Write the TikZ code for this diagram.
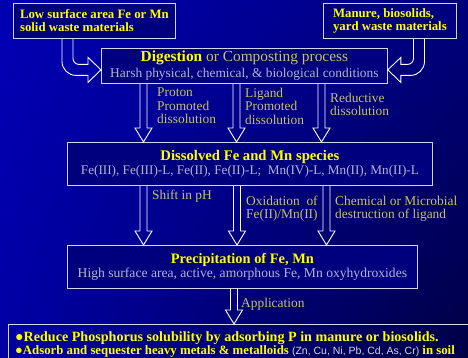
\documentclass[tikz,border=0pt]{standalone}
\usepackage{fontspec}
\setmainfont{Liberation Serif}
\newfontfamily\arialfont{Liberation Sans}
\usetikzlibrary{calc,shadings}
\definecolor{bgul}{HTML}{0000B4}
\definecolor{bgur}{HTML}{00007C}
\definecolor{bgll}{HTML}{0000A4}
\definecolor{bglr}{HTML}{000044}
\definecolor{boxfill}{HTML}{00007E}
\definecolor{rim}{HTML}{D4D4EC}
\definecolor{titleyel}{HTML}{FFFF00}
\definecolor{khaki}{HTML}{C8C264}
\definecolor{greytxt}{HTML}{B4B4D8}
\definecolor{lightgrey}{HTML}{D8D8D8}

\begin{document}
\begin{tikzpicture}[x=1pt, y=-1pt,
    box/.style={draw=rim, line width=0.8pt, fill=boxfill, inner sep=0pt,
                anchor=north west},
    blk/.style={draw=white, line width=0.9pt, line join=miter},
    lbl/.style={text=khaki, font=\fontsize{13.4}{13.3}\selectfont, align=left,
                anchor=north west, inner sep=0pt},
    ttl/.style={text=titleyel, font=\bfseries\fontsize{12.8}{13}\selectfont},
    usetxt/.style={text=titleyel, anchor=base west, inner sep=0pt}]
  %% Background
  \shade[upper left=bgul, upper right=bgur, lower left=bgll, lower right=bglr]
    (0,0) rectangle (468,358);
  \useasboundingbox (0,0) rectangle (468,358);
  %% Sources
  \node[box, minimum width=162, minimum height=35, align=left, ttl] (low) at (13,3)
    {Low surface area Fe or Mn\\solid waste materials};
  \node[box, minimum width=133, minimum height=35, align=left, ttl] (man) at (323,3)
    {Manure, biosolids,\\yard waste materials};
  %% Digestion
  \node[box, minimum width=286, minimum height=35, align=center] (dig) at (101,48)
    {{\fontsize{15.4}{15}\selectfont\textcolor{titleyel}{\bfseries Digestion}
      \textcolor{khaki}{or Composting process}}\\[2pt]
     {\fontsize{13.4}{13}\selectfont\textcolor{greytxt}{Harsh physical, chemical, \& biological conditions}}};
  %% Dissolved species
  \node[box, minimum width=365, minimum height=43, align=center] (dis) at (67,142)
    {{\fontsize{14.7}{15}\selectfont\textcolor{titleyel}{\bfseries Dissolved Fe and Mn species}}\\[0pt]
     {\fontsize{13.2}{13}\selectfont\textcolor{greytxt}{Fe(III), Fe(III)-L, Fe(II), Fe(II)-L;\ \ Mn(IV)-L, Mn(II), Mn(II)-L}}};
  %% Precipitation
  \node[box, minimum width=350, minimum height=43, align=center] (prec) at (67,245)
    {{\fontsize{14.4}{15}\selectfont\textcolor{titleyel}{\bfseries Precipitation of Fe, Mn}}\\[0pt]
     {\fontsize{13.6}{13}\selectfont\textcolor{greytxt}{High surface area, active, amorphous Fe, Mn oxyhydroxides}}};
  %% Uses
  \node[box, fill=none, minimum width=470, minimum height=40] (use) at (8,324) {};
  \node[usetxt, font=\bfseries\fontsize{14.1}{15}\selectfont] (useP) at (15,341)
    {●Reduce Phosphorus solubility by adsorbing P in manure or biosolids.};
  \node[usetxt, font=\bfseries\fontsize{12.8}{13}\selectfont] (useM) at (15,354)
    {●Adsorb and sequester heavy metals \& metalloids
     \textcolor{lightgrey}{\mdseries\arialfont\fontsize{10.5}{13}\selectfont (Zn, Cu, Ni, Pb, Cd, As, Cr)}
     in soil};
  %% Bent arrows into digestion
  \draw[blk] let \p1=($(low.south west)+(54.5,0)$), \p2=($(dig.west)+(0,4)$) in
    (\x1-5.5pt,\y1) -- (\x1-5.5pt,\y2+8.5pt)
    arc[start angle=180, end angle=270, radius=14pt]
    -- (\x2-13pt,\y2-5.5pt) -- (\x2-13pt,\y2-12.5pt) -- (\x2,\y2)
    -- (\x2-13pt,\y2+12.5pt) -- (\x2-13pt,\y2+5.5pt) -- (\x1+11.5pt,\y2+5.5pt)
    arc[start angle=270, end angle=180, radius=6pt] -- (\x1+5.5pt,\y1);
  \draw[blk] let \p1=($(man.south west)+(96,0)$), \p2=($(dig.east)+(0,4)$) in
    (\x1+5.5pt,\y1) -- (\x1+5.5pt,\y2+8.5pt)
    arc[start angle=0, end angle=-90, radius=14pt]
    -- (\x2+13pt,\y2-5.5pt) -- (\x2+13pt,\y2-12.5pt) -- (\x2,\y2)
    -- (\x2+13pt,\y2+12.5pt) -- (\x2+13pt,\y2+5.5pt) -- (\x1-11.5pt,\y2+5.5pt)
    arc[start angle=270, end angle=360, radius=6pt] -- (\x1-5.5pt,\y1);
  %% Straight block arrows
  \foreach \a/\b/\px in {dig/dis/143.5, dig/dis/236.5, dig/dis/321.5,
                         dis/prec/143.5, dis/prec/237, dis/prec/326.5,
                         prec/use/234}
    \draw[blk] let \p1=(\px,0 |- \a.south), \p2=(\px,0 |- \b.north) in
      (\x1-3.5pt,\y1) -- (\x1-3.5pt,\y2+14pt) -- (\x1-8.5pt,\y2+14pt) -- (\x2,\y2)
      -- (\x1+8.5pt,\y2+14pt) -- (\x1+3.5pt,\y2+14pt) -- (\x1+3.5pt,\y1);
  %% Arrow labels
  \node[lbl] (proton) at (157,88) {Proton\\Promoted\\dissolution};
  \node[lbl] (ligand) at (245,88) {Ligand\\Promoted\\dissolution};
  \node[lbl] (reduct) at (330,93) {Reductive\\dissolution};
  \node[lbl] (shift)  at (152,190) {Shift in pH};
  \node[lbl] (oxid)   at (246,196) {Oxidation~ of\\Fe(II)/Mn(II)};
  \node[lbl] (chem)   at (335,196) {Chemical or Microbial\\destruction of ligand};
  \node[lbl] (appl)   at (241,298) {Application};
\end{tikzpicture}
\end{document}
